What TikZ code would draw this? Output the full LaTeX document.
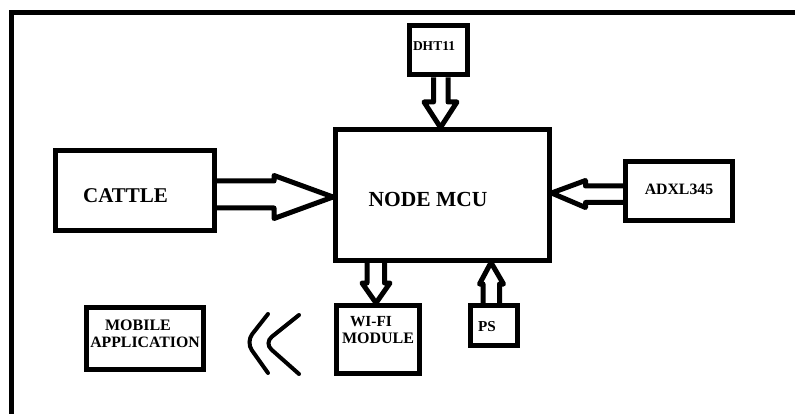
\documentclass[tikz,border=0pt]{standalone}
\usepackage{fontspec}
\setmainfont{Liberation Serif}
\begin{document}
\begin{tikzpicture}[x=1pt,y=-1pt,
  box/.style={draw, line width=5pt, inner sep=0pt},
  lbl/.style={inner sep=0pt, anchor=base, font=\bfseries},
  blk/.style={draw, line width=5pt, line join=round},
  wave/.style={draw, line width=4pt, line cap=round, rounded corners=10pt},
  frame/.style={draw, line width=5pt}]
\useasboundingbox (0,0) rectangle (795,414);
% frame
\draw[frame] (11.5,420) -- (11.5,12.5) -- (800,12.5);
% boxes
\node[box, minimum width=158.5pt, minimum height=80.5pt] (cattle) at (134.75,190.75) {};
\node[box, minimum width=213.5pt, minimum height=130pt] (mcu) at (442.25,195) {};
\node[box, minimum width=58pt, minimum height=49.5pt] (dht) at (438.5,50.25) {};
\node[box, minimum width=107pt, minimum height=59pt] (adxl) at (679,191) {};
\node[box, minimum width=83pt, minimum height=68pt] (wifi) at (378,339.5) {};
\node[box, minimum width=47pt, minimum height=40pt] (ps) at (494,325.5) {};
\node[box, minimum width=117pt, minimum height=62pt] (mobile) at (145,338.5) {};
% labels
\node[lbl] (tcattle) at (125.5,203) {\fontsize{21}{21}\selectfont CATTLE};
\node[lbl] (tmcu) at (428,207) {\fontsize{21.5}{21.5}\selectfont NODE MCU};
\node[lbl] (tdht) at (434,51) {\fontsize{13.5}{13.5}\selectfont DHT11};
\node[lbl] (tadxl) at (679,194.5) {\fontsize{15.8}{15.8}\selectfont ADXL345};
\node[lbl] (twifi1) at (371,326) {\fontsize{15.4}{15.4}\selectfont WI-FI};
\node[lbl] (twifi2) at (378,343) {\fontsize{16}{16}\selectfont MODULE};
\node[lbl] (tps) at (487,331) {\fontsize{15.2}{15.2}\selectfont PS};
\node[lbl] (tmob1) at (138,330) {\fontsize{16}{16}\selectfont MOBILE};
\node[lbl] (tmob2) at (145,347) {\fontsize{15.8}{15.8}\selectfont APPLICATION};
% block arrows
\draw[blk] (cattle.east |- 0,181) -- (274,181) -- (274,175.5) -- (mcu.west |- 0,197)
  -- (274,218.5) -- (274,208) -- (cattle.east |- 0,208);
\draw[blk] (433.5,0 |- dht.south) -- (433.5,102) -- (424,102) -- (440.5,0 |- mcu.north)
  -- (457,102) -- (448,102) -- (448,0 |- dht.south);
\draw[blk] (adxl.west |- 0,186) -- (585.5,186) -- (585.5,180.5) -- (mcu.east |- 0,193)
  -- (585.5,207.5) -- (585.5,202.5) -- (adxl.west |- 0,202.5);
\draw[blk] (367,0 |- mcu.south) -- (367,283) -- (362,283) -- (376,0 |- wifi.north)
  -- (390,283) -- (384.5,283) -- (384.5,0 |- mcu.south);
\draw[blk] (483,0 |- ps.north) -- (483,284) -- (479.5,284) -- (491,0 |- mcu.south)
  -- (503.5,284) -- (499.5,284) -- (499.5,0 |- ps.north);
% wireless waves
\draw[wave] (268,314) -- (246,342) -- (268,373);
\draw[wave] (299,315) -- (264,343) -- (299,374);
\end{tikzpicture}
\end{document}
